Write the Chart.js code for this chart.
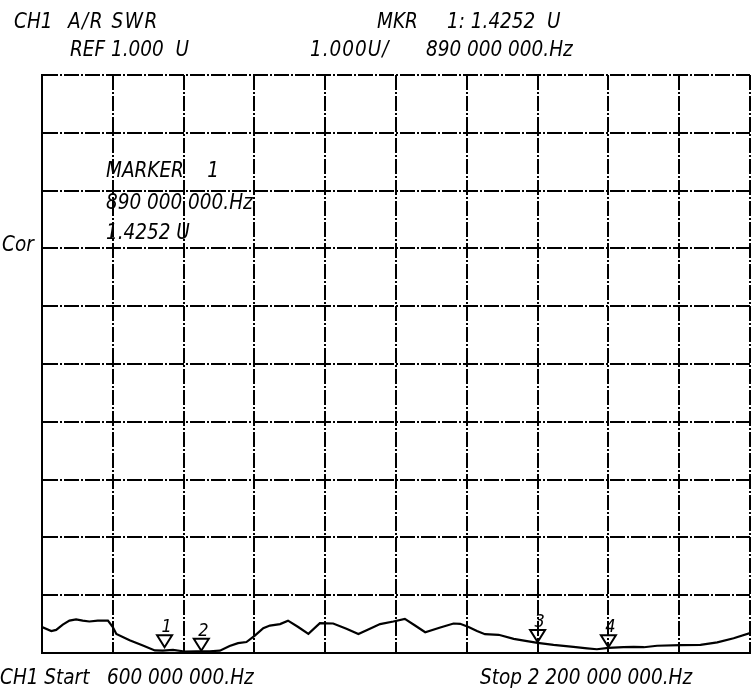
<!DOCTYPE html>
<html>
<head>
<meta charset="utf-8">
<script src="https://cdn.jsdelivr.net/npm/chart.js@4"></script>
<style>
    html, body { margin: 0; padding: 0; background: #fff; }
    #wrap { position: relative; width: 753px; height: 699px; }
    #c { position: absolute; left: 0; top: 0; }
    .t {
        position: absolute;
        font-family: "Liberation Sans Narrow", "DejaVu Sans Condensed", "Liberation Sans", sans-serif;
        font-style: italic;
        font-size: 20.5px;
        color: #000;
        white-space: pre;
        line-height: 1;
    }
</style>
</head>
<body>
<div id="wrap">
    <canvas id="c" width="753" height="699"></canvas>
    <div class="t" style="left:14px; top:11px;">CH1</div>
    <div class="t" style="left:68px; top:11px; letter-spacing:1.5px;">A/R SWR</div>
    <div class="t" style="left:377px; top:11px;">MKR</div>
    <div class="t" style="left:447px; top:11px;">1: 1.4252  U</div>
    <div class="t" style="left:70px; top:39px;">REF 1.000  U</div>
    <div class="t" style="left:310px; top:39px; letter-spacing:1px;">1.000U/</div>
    <div class="t" style="left:426px; top:39px;">890 000 000.Hz</div>
    <div class="t" style="left:2px; top:234px;">Cor</div>
    <div class="t" style="left:106px; top:160px;">MARKER    1</div>
    <div class="t" style="left:106px; top:192px;">890 000 000.Hz</div>
    <div class="t" style="left:106px; top:222px;">1.4252 U</div>
    <div class="t" style="left:0px; top:667px;">CH1 Start</div>
    <div class="t" style="left:107px; top:667px;">600 000 000.Hz</div>
    <div class="t" style="left:480px; top:667px;">Stop 2 200 000 000.Hz</div>
</div>
<script>
// trace: frequency (MHz) and SWR (U)
const freqs = [600, 621, 632, 647, 662, 677, 692, 707, 726, 749, 760, 768, 798, 828, 855, 873, 896, 922, 949, 979,
    1002, 1024, 1043, 1062, 1081, 1100, 1115, 1138, 1156, 1179, 1202, 1228, 1258, 1288, 1315, 1341, 1364, 1394, 1420, 1443,
    1466, 1500, 1530, 1545, 1564, 1583, 1601, 1632, 1666, 1696, 1720, 1756, 1801, 1832, 1854, 1880, 1914, 1937, 1960, 1990,
    2043, 2088, 2126, 2163, 2200];
const swr = [1.45, 1.38, 1.40, 1.49, 1.56, 1.58, 1.56, 1.545, 1.56, 1.56, 1.45, 1.33, 1.22, 1.13, 1.045, 1.04, 1.055, 1.026, 1.03, 1.03,
    1.04, 1.12, 1.17, 1.19, 1.30, 1.43, 1.475, 1.50, 1.56, 1.45, 1.33, 1.515, 1.51, 1.42, 1.33, 1.42, 1.50, 1.545, 1.59, 1.475,
    1.36, 1.44, 1.51, 1.505, 1.45, 1.38, 1.325, 1.315, 1.245, 1.205, 1.175, 1.14, 1.105, 1.08, 1.065, 1.09, 1.10, 1.105, 1.10, 1.125,
    1.135, 1.14, 1.185, 1.255, 1.345];

// markers
const mkrNames = ['1', '2', '3', '4'];
const mkrFreqs = [877, 960, 1720, 1880];
const mkrValues = [1.10, 1.04, 1.19, 1.10];

const FONT = '"Liberation Sans Narrow", "DejaVu Sans Condensed", "Liberation Sans", sans-serif';

const markerPlugin = {
    id: 'markers',
    afterDatasetsDraw(chart) {
        const ctx = chart.ctx;
        const xs = chart.scales.x, ys = chart.scales.y;
        ctx.save();
        ctx.strokeStyle = '#000';
        ctx.fillStyle = '#000';
        ctx.lineWidth = 2;
        ctx.font = 'italic 18px ' + FONT;
        ctx.textAlign = 'center';
        ctx.textBaseline = 'alphabetic';
        mkrFreqs.forEach((f, i) => {
            const x = xs.getPixelForValue(f);
            const y = ys.getPixelForValue(mkrValues[i]);
            ctx.beginPath();
            ctx.moveTo(x, y);
            ctx.lineTo(x - 7.5, y - 12);
            ctx.lineTo(x + 7.5, y - 12);
            ctx.closePath();
            ctx.stroke();
            ctx.fillText(mkrNames[i], x + 2, y - 15);
        });
        ctx.restore();
    }
};

const gridOpts = {
    color: '#000',
    lineWidth: 2,
    drawTicks: false
};

new Chart(document.getElementById('c').getContext('2d'), {
    type: 'line',
    data: {
        datasets: [{
            data: freqs.map((f, i) => ({ x: f, y: swr[i] })),
            borderColor: '#000',
            borderWidth: 2.2,
            pointRadius: 0,
            tension: 0,
            fill: false
        }]
    },
    options: {
        responsive: false,
        animation: false,
        events: [],
        layout: { padding: { left: 42, right: 3, top: 75, bottom: 46 } },
        plugins: { legend: { display: false }, tooltip: { enabled: false } },
        scales: {
            x: {
                type: 'linear',
                min: 600,
                max: 2200,
                ticks: { display: false, stepSize: 160 },
                grid: gridOpts,
                border: { display: true, color: '#000', width: 2, dash: [15, 2, 2, 2] }
            },
            y: {
                min: 1,
                max: 11,
                ticks: { display: false, stepSize: 1 },
                grid: gridOpts,
                border: { display: true, color: '#000', width: 2, dash: [15, 2, 2, 2] }
            }
        }
    },
    plugins: [markerPlugin]
});
</script>
</body>
</html>
